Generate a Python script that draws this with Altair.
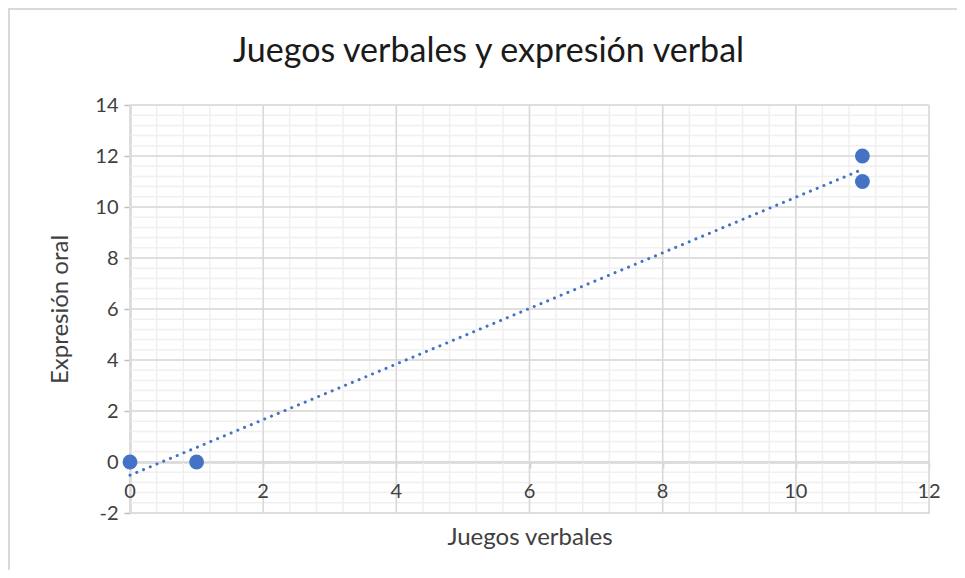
import altair as alt
import pandas as pd

# Data
juegos_verbales = [0, 1, 11, 11]
expresion_oral = [0, 0, 12, 11]

# Axis tick values
x_ticks = [0, 2, 4, 6, 8, 10, 12]
y_ticks = [-2, 0, 2, 4, 6, 8, 10, 12, 14]
x_minor = [round(i * 0.4, 1) for i in range(31)]
y_minor = [round(-2 + i * 0.4, 1) for i in range(41)]

df = pd.DataFrame({"x": juegos_verbales, "y": expresion_oral})

FONT = "Lato"
BLUE = "#4472C4"
LABEL = "#404040"

xs = alt.Scale(domain=[0, 12], nice=False, zero=False)
ys = alt.Scale(domain=[-2, 14], nice=False, zero=False)

x_axis = alt.Axis(orient="bottom", values=x_ticks, grid=False,
                  domainColor="#bfbfbf", domainWidth=2,
                  tickColor="#bfbfbf", tickWidth=1.5, tickSize=6, offset=-51,
                  labels=False,
                  titleFont=FONT, titleFontSize=24, titleColor=LABEL,
                  titleFontWeight="normal", titlePadding=57)
y_axis = alt.Axis(orient="left", values=y_ticks, grid=False,
                  domainColor="#bfbfbf", domainWidth=2,
                  tickColor="#bfbfbf", tickWidth=1.5, tickSize=6,
                  labelExpr="toString(datum.value)", labelFlush=False,
                  labelFont=FONT, labelFontSize=20, labelColor=LABEL, labelPadding=6,
                  titleFont=FONT, titleFontSize=24, titleColor=LABEL,
                  titleFontWeight="normal", titlePadding=22)

XT = "Juegos verbales"
YT = "Expresión oral"

minor_x = alt.Chart(pd.DataFrame({"v": x_minor})).mark_rule(
    color="#f0f0f0", strokeWidth=1.5
).encode(x=alt.X("v:Q", scale=xs, title=XT))
minor_y = alt.Chart(pd.DataFrame({"v": y_minor})).mark_rule(
    color="#f0f0f0", strokeWidth=1.5
).encode(y=alt.Y("v:Q", scale=ys, title=YT))
major_x = alt.Chart(pd.DataFrame({"v": x_ticks})).mark_rule(
    color="#d9d9d9", strokeWidth=1.5
).encode(x=alt.X("v:Q", scale=xs, title=XT))
major_y = alt.Chart(pd.DataFrame({"v": y_ticks})).mark_rule(
    color="#d9d9d9", strokeWidth=1.5
).encode(y=alt.Y("v:Q", scale=ys, title=YT))

# x tick labels drawn on top of the grid (as Excel does), at y = 0
x_labels = alt.Chart(pd.DataFrame({"v": x_ticks})).mark_text(
    font=FONT, fontSize=20, color=LABEL, dy=30, baseline="middle", align="center"
).encode(
    x=alt.X("v:Q", scale=xs, title=XT),
    y=alt.datum(0, scale=ys),
    text=alt.Text("v:Q", format="d"),
)

trend = alt.Chart(df).transform_regression("x", "y").mark_line(
    color=BLUE, strokeWidth=3, strokeDash=[0.1, 7.2], strokeCap="round"
).encode(
    x=alt.X("x:Q", scale=xs, title=XT),
    y=alt.Y("y:Q", scale=ys, title=YT),
)

points = alt.Chart(df).mark_circle(size=220, opacity=1, color=BLUE).encode(
    x=alt.X("x:Q", scale=xs, title=XT, axis=x_axis),
    y=alt.Y("y:Q", scale=ys, title=YT, axis=y_axis),
)

border = alt.Chart(alt.Data(values=[{}])).mark_rect(
    filled=False, stroke="#d9d9d9", strokeWidth=2
).encode(
    x=alt.value(-121), x2=alt.value(1000), y=alt.value(-96), y2=alt.value(1000)
)

chart = alt.layer(minor_x, minor_y, major_x, major_y, x_labels, trend, points, border).properties(
    width=799,
    height=408,
    title=alt.TitleParams("Juegos verbales y expresión verbal", font=FONT, fontSize=34,
                          fontWeight="normal", color="#1a1a1a", anchor="middle", dx=-41,
                          offset=-61),
    autosize=alt.AutoSizeParams(type="none"),
    padding={"left": 122, "top": 97, "right": 28, "bottom": 57},
).configure_view(strokeWidth=0).configure(background="white")

chart.save("out.html", embed_options={"renderer": "svg", "actions": False})
